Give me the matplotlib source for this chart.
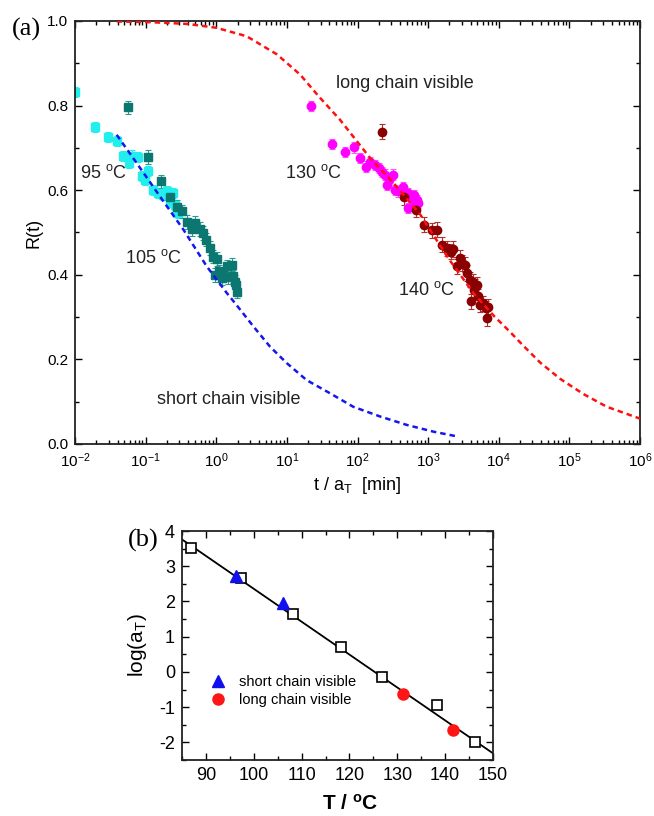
import matplotlib
matplotlib.use('Agg')
import matplotlib.pyplot as plt
from matplotlib.ticker import LogLocator, MultipleLocator, NullFormatter
import numpy as np

plt.rcParams['font.family'] = ['Liberation Sans', 'DejaVu Sans']
plt.rcParams['mathtext.fontset'] = 'custom'
plt.rcParams['mathtext.rm'] = 'Liberation Sans'
plt.rcParams['mathtext.it'] = 'Liberation Sans:italic'
plt.rcParams['axes.unicode_minus'] = False

# (a) relaxation R(t) vs reduced time, log10(t/aT) and R ----------------------
logt_95 = [-2.005, -1.717, -1.537, -1.41, -1.316, -1.23, -1.197, -1.103, -1.056,
           -1.009, -0.962, -0.891, -0.82, -0.749, -0.70, -0.654, -0.607, -0.584,
           -0.56, -0.537]
R_95 = [0.833, 0.749, 0.725, 0.716, 0.680, 0.664, 0.682, 0.679, 0.633, 0.625,
        0.645, 0.601, 0.593, 0.589, 0.597, 0.573, 0.593, 0.566, 0.550, 0.546]

logt_105 = [-1.254, -0.962, -0.782, -0.654, -0.56, -0.48, -0.41, -0.347, -0.30,
            -0.23, -0.191, -0.144, -0.088, -0.05, -0.017, 0.007, 0.044, 0.078,
            0.10, 0.149, 0.172, 0.219, 0.242, 0.266, 0.28, 0.29]
R_105 = [0.796, 0.678, 0.621, 0.585, 0.560, 0.550, 0.525, 0.508, 0.522, 0.508,
         0.499, 0.483, 0.463, 0.443, 0.400, 0.437, 0.408, 0.392, 0.400, 0.420,
         0.395, 0.424, 0.396, 0.384, 0.376, 0.360]

logt_130 = [1.338, 1.645, 1.824, 1.952, 2.037, 2.12, 2.18, 2.25, 2.30, 2.344,
            2.39, 2.42, 2.44, 2.50, 2.53, 2.58, 2.64, 2.674, 2.72, 2.72, 2.77,
            2.80, 2.816, 2.84, 2.86]
R_130 = [0.800, 0.709, 0.690, 0.701, 0.676, 0.656, 0.667, 0.660, 0.652, 0.644,
         0.637, 0.613, 0.625, 0.637, 0.601, 0.597, 0.607, 0.589, 0.593, 0.558,
         0.580, 0.589, 0.562, 0.577, 0.570]

logt_140 = [2.353, 2.66, 2.83, 2.948, 3.052, 3.13, 3.19, 3.265, 3.32, 3.35, 3.41,
            3.45, 3.477, 3.52, 3.55, 3.595, 3.604, 3.633, 3.645, 3.666, 3.69,
            3.71, 3.736, 3.78, 3.82, 3.83, 3.85]
R_140 = [0.738, 0.583, 0.554, 0.518, 0.505, 0.507, 0.471, 0.463, 0.455, 0.461,
         0.420, 0.440, 0.428, 0.424, 0.404, 0.388, 0.337, 0.384, 0.364, 0.372,
         0.376, 0.349, 0.329, 0.333, 0.321, 0.297, 0.325]

err_95, err_105, err_130, err_140 = 0.012, 0.016, 0.012, 0.018

# model curves
logt_long = [-1.41, -0.9, -0.4, 0.0, 0.43, 0.86, 1.19, 1.45, 1.75, 1.99, 2.18,
             2.51, 2.89, 3.27, 3.64, 3.93, 4.16, 4.35, 4.59, 4.87, 5.2, 5.53, 6.0]
R_long = [0.999, 0.997, 0.993, 0.984, 0.964, 0.921, 0.873, 0.822, 0.767, 0.716,
          0.676, 0.617, 0.542, 0.443, 0.357, 0.303, 0.265, 0.232, 0.192, 0.154,
          0.118, 0.088, 0.060]

logt_short = [-1.41, -1.126, -0.796, -0.466, -0.135, 0.149, 0.266, 0.526, 0.762,
              1.0, 1.28, 1.61, 1.94, 2.32, 2.70, 3.08, 3.38]
R_short = [0.731, 0.664, 0.585, 0.507, 0.420, 0.357, 0.333, 0.278, 0.230, 0.191,
           0.151, 0.120, 0.088, 0.065, 0.045, 0.029, 0.019]

# (b) shift factors ------------------------------------------------------------
T_all = [86.9, 97.3, 108.2, 118.2, 126.8, 138.2, 146.3]
logaT_all = [3.53, 2.66, 1.64, 0.70, -0.15, -0.93, -2.00]
T_short = [96.3, 106.2]
logaT_short = [2.73, 1.97]
T_long = [131.1, 141.7]
logaT_long = [-0.64, -1.65]
T_fit = [85, 150]
logaT_fit = [3.76, -2.31]


def tp(logt):
    return 10.0**np.asarray(logt)


def style_axes(ax, size):
    ax.tick_params(which='both', direction='in', top=True, right=True,
                   labelsize=size, width=1.0, pad=5)
    ax.tick_params(which='major', length=5)
    ax.tick_params(which='minor', length=2.8)
    for s in ax.spines.values():
        s.set_linewidth(1.3)
        s.set_color('#222222')


fig = plt.figure(figsize=(6.54, 8.16), dpi=100)

# panel (a) --------------------------------------------------------------------
ax = fig.add_axes([75/654, 1-444/816, 565/654, 423/816])
ax.set_xscale('log')

ebkw = dict(fmt='s', ms=6, capsize=2.5, elinewidth=0.8, capthick=0.8)
ax.errorbar(tp(logt_95), R_95, yerr=err_95, color='#22EEEE', ecolor='#22EEEE',
            **ebkw)
ax.errorbar(tp(logt_105), R_105, yerr=err_105, color='#0B7770', ecolor='#2A9A90',
            **ebkw)
ebkw['fmt'] = 'o'
ax.errorbar(tp(logt_130), R_130, yerr=err_130, color='#FF00FF', ecolor='#FF55FF',
            **ebkw)
ax.errorbar(tp(logt_140), R_140, yerr=err_140, color='#8B0000', ecolor='#B03030',
            **ebkw)

ax.plot(tp(logt_long), R_long, color='#FF1010', lw=1.8, ls=(0, (2.2, 1.6)),
        zorder=5)
ax.plot(tp(logt_short), R_short, color='#1515F0', lw=1.8, ls=(0, (2.2, 1.6)),
        zorder=5)

ax.set_xlim(1e-2, 1e6)
ax.set_ylim(0, 1.0)
ax.set_xticks(10.0**np.arange(-2, 7))
ax.xaxis.set_minor_locator(LogLocator(base=10, subs=np.arange(2, 10), numticks=200))
ax.xaxis.set_minor_formatter(NullFormatter())
ax.set_xlim(1e-2, 1e6)
ax.yaxis.set_minor_locator(MultipleLocator(0.1))
ax.set_yticks([0, 0.2, 0.4, 0.6, 0.8, 1.0])
ax.set_yticklabels(['0.0', '0.2', '0.4', '0.6', '0.8', '1.0'])
style_axes(ax, 11)
ax.set_xlabel(r't / a$_\mathregular{T}$  [min]', fontsize=13, labelpad=4)
ax.set_ylabel('R(t)', fontsize=13, labelpad=3)

tkw = dict(fontsize=13, color='#222222')
ax.text(tp(-1.93), 0.64, r'95 $^\mathregular{o}$C', va='center', **tkw)
ax.text(tp(-1.29), 0.44, r'105 $^\mathregular{o}$C', va='center', **tkw)
ax.text(tp(0.975), 0.64, r'130 $^\mathregular{o}$C', va='center', **tkw)
ax.text(tp(2.575), 0.364, r'140 $^\mathregular{o}$C', va='center', **tkw)
ax.text(tp(1.70), 0.853, 'long chain visible', va='center', **tkw)
ax.text(tp(-0.84), 0.106, 'short chain visible', va='center', **tkw)
fig.text(12/654, 1-29/816, '(a)', family='Liberation Serif', fontsize=19,
         va='center', ha='left')

# panel (b) --------------------------------------------------------------------
bx = fig.add_axes([182/654, 1-760/816, 311/654, 229/816])
bx.plot(T_fit, logaT_fit, color='black', lw=1.3, zorder=2)
bx.plot(T_all, logaT_all, ls='none', marker='s', ms=7.5, mfc='white', mec='black',
        mew=1.2, zorder=3)
bx.plot(T_short, logaT_short, ls='none', marker='^', ms=8.5, color='#1010EE',
        label='short chain visible', zorder=4)
bx.plot(T_long, logaT_long, ls='none', marker='o', ms=8, color='#FF1515',
        label='long chain visible', zorder=4)
bx.set_xlim(85, 150)
bx.set_ylim(-2.5, 4)
bx.xaxis.set_major_locator(MultipleLocator(10))
bx.xaxis.set_minor_locator(MultipleLocator(5))
bx.yaxis.set_major_locator(MultipleLocator(1))
bx.yaxis.set_minor_locator(MultipleLocator(0.5))
style_axes(bx, 13)
bx.set_xlabel(r'T / $^\mathregular{o}$C', fontsize=15, fontweight='bold')
bx.xaxis.set_label_coords(0.54, -0.148)
bx.set_ylabel(r'log(a$_\mathregular{T}$)', fontsize=15, labelpad=7)
bx.legend(loc='center left', bbox_to_anchor=(0.072, 0.30), frameon=False,
          fontsize=10.5, handlelength=1.0, handletextpad=1.0, labelspacing=0.3,
          borderaxespad=0)
fig.text(128/654, 1-540/816, '(b)', family='Liberation Serif', fontsize=19,
         va='center', ha='left')

fig.savefig('out.png', dpi=100)
